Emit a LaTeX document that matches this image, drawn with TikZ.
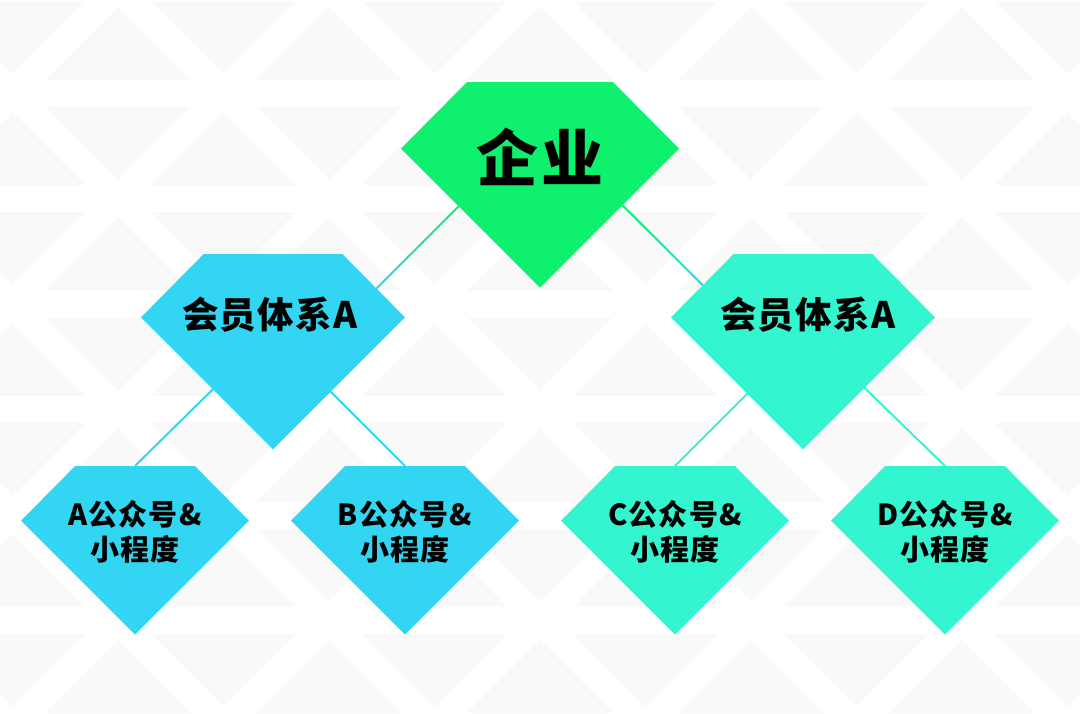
\documentclass[tikz,border=0pt]{standalone}
\usepackage{fontspec}
\newfontfamily\cjk{Noto Sans CJK SC}[LetterSpace=4]
\usepackage{tikz}
\usetikzlibrary{calc,positioning}

\definecolor{entgreen}{HTML}{0EF06E}
\definecolor{sysblue}{HTML}{33D6F2}
\definecolor{sysaqua}{HTML}{33F5D0}
\definecolor{patgray}{HTML}{F9F9F9}

\tikzset{
  pics/gem/.style={code={
    \fill (-0.525,0) -- (0.525,0) -- (1,0.48) -- (0,1.48) -- (-1,0.48) -- cycle;
  }},
  gridline/.style={draw=white, line width=27pt},
  link/.style={line width=2pt},
  gemtext/.style={align=center, inner sep=0pt, text=black},
  bigtext/.style={gemtext, font=\cjk\bfseries\fontsize{62}{62}\selectfont},
  midtext/.style={gemtext, font=\cjk\bfseries\fontsize{36.5}{36}\selectfont},
  smalltext/.style={gemtext, font=\cjk\bfseries\fontsize{29}{35}\selectfont}
}

\begin{document}
\begin{tikzpicture}[x=1pt,y=-1pt]
	% triangle pattern in the back
	\fill[patgray] (0,0) rectangle (1080,713);
	\begin{scope}
		\clip (0,0) rectangle (1080,713);
		\foreach \n in {0,...,7} {
			\draw[gridline] (-50,-12.5+105.5*\n) -- (1130,-12.5+105.5*\n);
		};
		\foreach \c in {-4,...,5} {
			\draw[gridline] ({130.5+211*\c-200},-200) -- ++(1100,1100);
		};
		\foreach \c in {0,...,9} {
			\draw[gridline] ({105.5+211*\c+200},-200) -- ++(-1100,1100);
		};
	\end{scope}
	\useasboundingbox (0,0) rectangle (1080,713);

	% hubs where the links meet
	\coordinate (ent-hub) at (541,124);
	\coordinate (sysL-hub) at (270,395);
	\coordinate (sysR-hub) at (808,390);
	\coordinate (sysL-fork) at (271,332);
	\coordinate (sysR-fork) at (808,333);
	\coordinate (appA-top) at (135,466);
	\coordinate (appB-top) at (405,466);
	\coordinate (appC-top) at (675,466);
	\coordinate (appD-top) at (945,466);

	% links, top ones fade from green to blue
	\foreach \s in {sysL,sysR} {
		\foreach \i in {0,...,19} {
			\pgfmathsetmacro\pct{max(0,min(100,100-(\i/20-0.3)/0.3*100))}
			\draw[link, draw=entgreen!\pct!sysblue] ($(ent-hub)!{\i/20}!(\s-hub)$) -- ($(ent-hub)!{\i/20+0.051}!(\s-hub)$);
		};
	};
	\draw[link, sysblue] (sysL-fork) -- (appA-top);
	\draw[link, sysblue] (sysL-fork) -- (appB-top);
	\draw[link, sysaqua] (sysR-fork) -- (appC-top);
	\draw[link, sysaqua] (sysR-fork) -- (appD-top);

	% gems
	\foreach \x/\y/\w/\col in {540/82/139/entgreen, 273/254/132/sysblue, 803/254/132/sysaqua,
		135/466/114/sysblue, 405/466/114/sysblue, 675/466/114/sysaqua, 945/466/114/sysaqua} {
		\pic[\col, scale=\w] at (\x,\y) {gem};
	};

	% labels
	\node[bigtext] (ent) at (540,157) {企业};
	\node[midtext] (sysL) at (270,315) {会员体系A};
	\node[midtext] (sysR) at (808,315) {会员体系A};
	\node[smalltext] (appA) at (135,532) {A公众号\&\\小程度};
	\node[smalltext] (appB) at (405,532) {B公众号\&\\小程度};
	\node[smalltext] (appC) at (675,532) {C公众号\&\\小程度};
	\node[smalltext] (appD) at (945,532) {D公众号\&\\小程度};
\end{tikzpicture}
\end{document}
